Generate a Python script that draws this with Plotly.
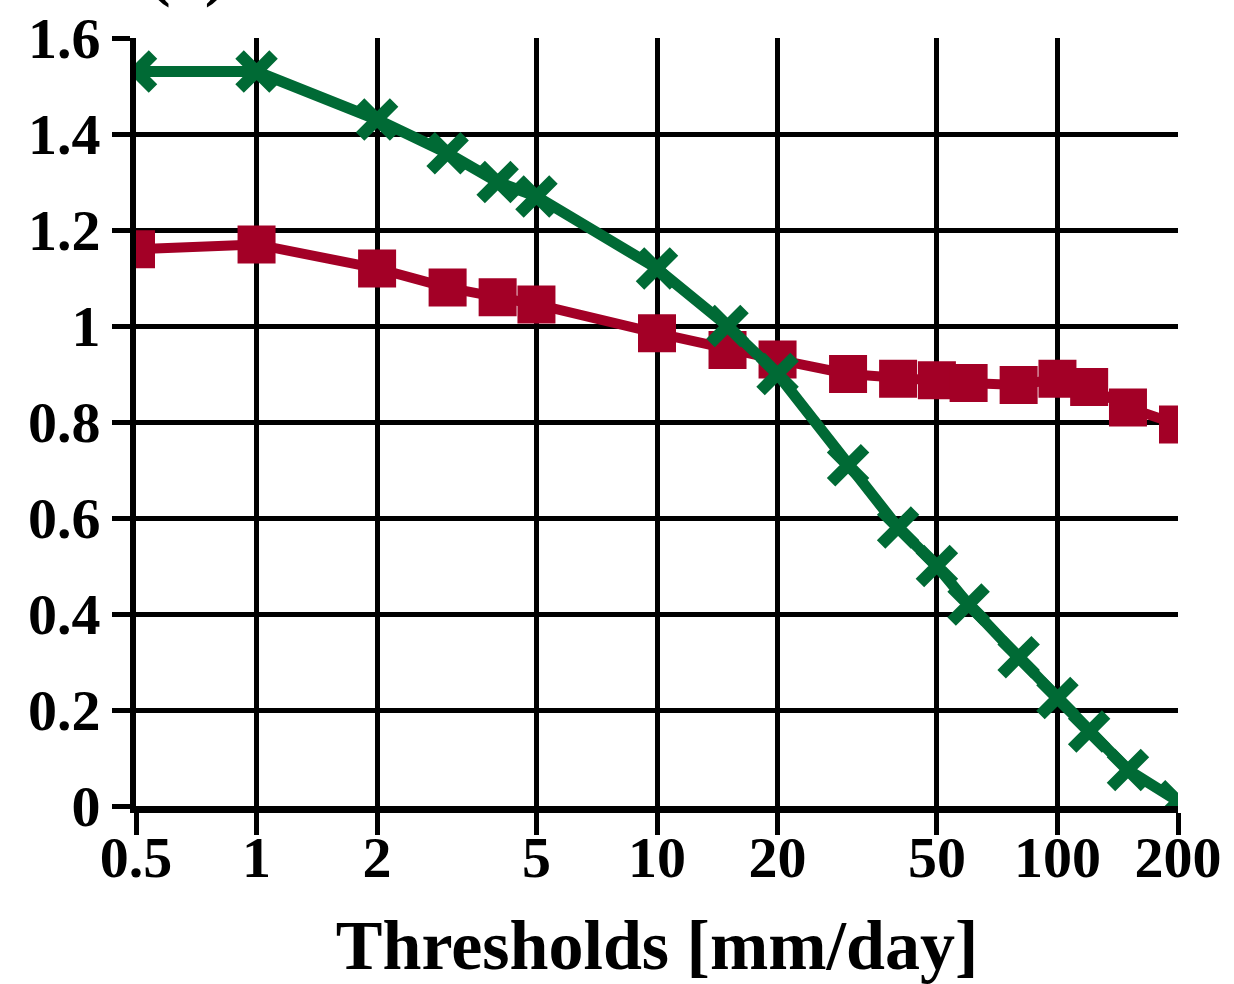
import plotly.graph_objects as go

thresholds = [0.5, 1, 2, 3, 4, 5, 10, 15, 20, 30, 40, 50, 60, 80, 100, 120, 150, 200]
green_vals = [1.53, 1.53, 1.43, 1.36, 1.30, 1.27, 1.12, 1.00, 0.90, 0.71, 0.58, 0.50, 0.42, 0.31, 0.225, 0.155, 0.075, 0.01]
red_vals = [1.16, 1.17, 1.12, 1.08, 1.06, 1.045, 0.985, 0.95, 0.93, 0.90, 0.89, 0.887, 0.881, 0.877, 0.89, 0.873, 0.83, 0.795]
x_ticks = [0.5, 1, 2, 5, 10, 20, 50, 100, 200]
x_ticktext = ["0.5", "1", "2", "5", "10", "20", "50", "100", "200"]
y_ticks = [0, 0.2, 0.4, 0.6, 0.8, 1.0, 1.2, 1.4, 1.6]
y_ticktext = ["0", "0.2", "0.4", "0.6", "0.8", "1", "1.2", "1.4", "1.6"]

RED = "#A30026"
GREEN = "#006A35"
FONT = "Liberation Serif"

fig = go.Figure()
fig.add_trace(go.Scatter(
    x=thresholds, y=red_vals, mode="lines+markers",
    line=dict(color=RED, width=10),
    marker=dict(symbol="square", size=38, color=RED, line=dict(width=0)),
    cliponaxis=True, showlegend=False,
))
fig.add_trace(go.Scatter(
    x=thresholds, y=green_vals, mode="lines+markers",
    line=dict(color=GREEN, width=11),
    marker=dict(symbol="x-thin", size=34, color=GREEN, line=dict(width=12, color=GREEN)),
    cliponaxis=True, showlegend=False,
))

fig.update_layout(
    width=1234, height=984,
    margin=dict(l=136, r=56, t=38, b=178, autoexpand=False),
    paper_bgcolor="white", plot_bgcolor="white",
    font=dict(family=FONT, color="black"),
    annotations=[dict(
        text="(a)", xref="paper", yref="paper", x=0.049, y=1.036,
        xanchor="center", yanchor="bottom", showarrow=False,
        font=dict(family=FONT, size=68, color="black", weight="bold"),
    )],
)
fig.update_xaxes(
    type="log", range=[-0.30103, 2.30103], automargin=False,
    tickvals=x_ticks, ticktext=x_ticktext,
    showgrid=True, gridcolor="black", gridwidth=5,
    showline=True, linecolor="black", linewidth=7,
    ticks="outside", ticklen=22, tickwidth=5, tickcolor="black",
    ticklabelstandoff=-28,
    tickfont=dict(family=FONT, size=58, color="black", weight="bold"),
    title=dict(text="Thresholds [mm/day]", standoff=60,
               font=dict(family=FONT, size=70, color="black", weight="bold")),
    zeroline=False, mirror=False,
)
fig.update_yaxes(
    range=[0, 1.6], tickvals=y_ticks, ticktext=y_ticktext, automargin=False,
    showgrid=True, gridcolor="black", gridwidth=5,
    showline=True, linecolor="black", linewidth=6,
    ticks="outside", ticklen=18, tickwidth=5, tickcolor="black",
    tickfont=dict(family=FONT, size=58, color="black", weight="bold"),
    zeroline=False,
)

fig.write_html("out.html")
